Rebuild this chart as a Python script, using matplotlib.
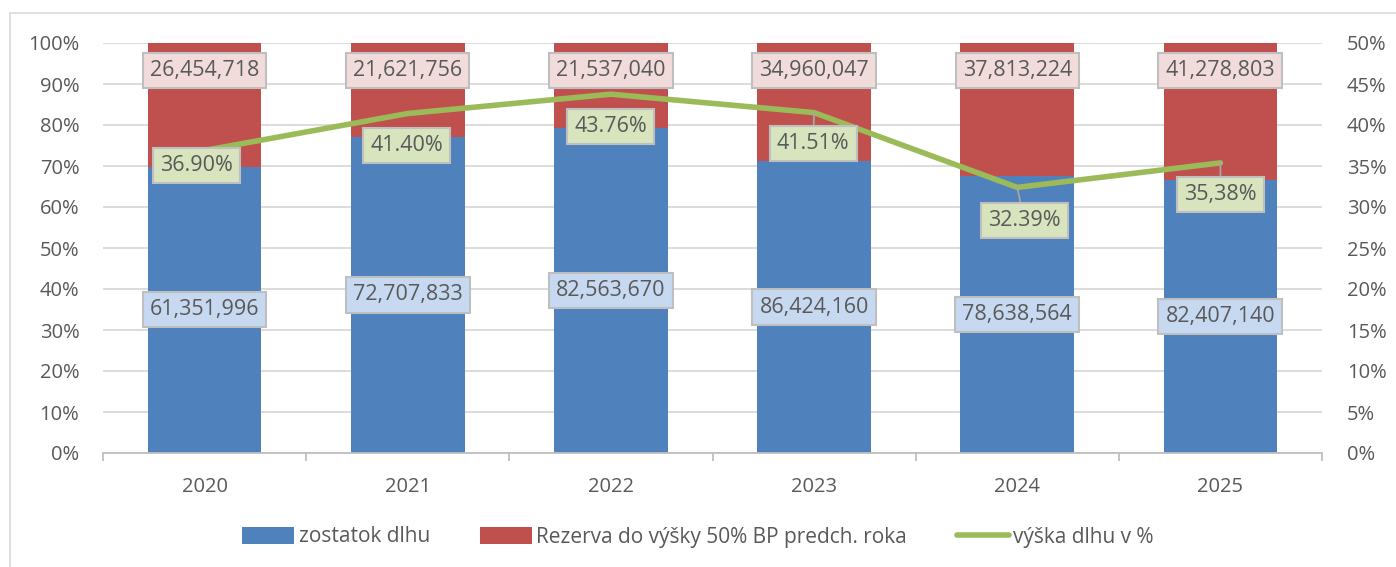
import matplotlib
matplotlib.use("Agg")
import matplotlib.pyplot as plt
from matplotlib.patches import Rectangle
from matplotlib.ticker import FuncFormatter, MultipleLocator
import numpy as np

years = ["2020", "2021", "2022", "2023", "2024", "2025"]
zostatok = [61351996, 72707833, 82563670, 86424160, 78638564, 82407140]
rezerva = [26454718, 21621756, 21537040, 34960047, 37813224, 41278803]
vyska_pct = [36.90, 41.40, 43.76, 41.51, 32.39, 35.38]
vyska_labels = ["36.90%", "41.40%", "43.76%", "41.51%", "32.39%", "35,38%"]

BLUE = "#4F81BD"; RED = "#C0504D"; GREEN = "#9BBB59"
TXT = "#595959"
plt.rcParams['font.family'] = ['Open Sans', 'DejaVu Sans']

fig = plt.figure(figsize=(13.96, 5.67), dpi=100)
fig.patches.append(Rectangle((10/1396, -0.01), 1.0, 1 - 13/567 + 0.01, transform=fig.transFigure,
                             fill=False, edgecolor="#D9D9D9", linewidth=1.2))
ax = fig.add_axes([103/1396, 1 - 453/567, (1322 - 103)/1396, (453 - 43)/567])
ax2 = ax.twinx()

x = np.arange(len(years))
tot = np.array(zostatok, float) + np.array(rezerva, float)
blue_frac = np.array(zostatok) / tot * 100
red_frac = np.array(rezerva) / tot * 100
w = 0.56
ax.bar(x, blue_frac, w, color=BLUE, label="zostatok dlhu", zorder=2)
ax.bar(x, red_frac, w, bottom=blue_frac, color=RED, label="Rezerva do výšky 50% BP predch. roka", zorder=2)

ax.set_xlim(-0.5, len(years) - 0.5)
ax.set_ylim(0, 100)
ax.yaxis.set_major_locator(MultipleLocator(10))
ax.yaxis.set_major_formatter(FuncFormatter(lambda v, p: f"{v:.0f}%"))
ax.grid(axis="y", color="#D9D9D9", linewidth=1.3, zorder=0)
ax.set_axisbelow(True)
for s in ["top", "right", "left"]:
    ax.spines[s].set_visible(False)
ax.spines["bottom"].set_color("#BFBFBF")
ax.spines["bottom"].set_linewidth(1.3)
ax.set_xticks(x)
ax.set_xticklabels(years)
ax.set_xticks(np.arange(-0.5, len(years)), minor=True)
ax.tick_params(axis="x", which="major", length=0, pad=17, labelsize=14.5, labelcolor=TXT)
ax.tick_params(axis="x", which="minor", length=6, color="#BFBFBF", width=1.3)
ax.tick_params(axis="y", length=0, pad=17, labelsize=14.5, labelcolor=TXT)

ax2.set_ylim(0, 50)
ax2.yaxis.set_major_locator(MultipleLocator(5))
ax2.yaxis.set_major_formatter(FuncFormatter(lambda v, p: f"{v:.0f}%"))
ax2.tick_params(axis="y", length=0, pad=18, labelsize=14.5, labelcolor=TXT)
for s in ["top", "right", "left", "bottom"]:
    ax2.spines[s].set_visible(False)
ax2.plot(x, vyska_pct, color=GREEN, linewidth=4, solid_capstyle="round", label="výška dlhu v %", zorder=3)

LFS = 15.5
PAD = 0.33
for i in range(len(years)):
    ax.text(x[i], blue_frac[i] / 2, f"{zostatok[i]:,}", ha="center", va="center", fontsize=LFS, color=TXT,
            zorder=5, bbox=dict(boxstyle=f"square,pad={PAD}", fc="#C6D9F1", ec="#BFBFBF", lw=1.5))
    ax.text(x[i], 93.3, f"{rezerva[i]:,}", ha="center", va="center", fontsize=LFS, color=TXT,
            zorder=5, bbox=dict(boxstyle=f"square,pad={PAD}", fc="#F2DCDB", ec="#BFBFBF", lw=1.5))

offsets = [(-8, -15), (-1, -32), (0, -32), (-1, -31), (7, -33), (0, -32)]
leaders = [False, False, False, True, True, True]
for i in range(len(years)):
    dx, dy = offsets[i]
    ax2.annotate(vyska_labels[i], (x[i], vyska_pct[i]), xytext=(dx * 0.72, dy * 0.72), textcoords="offset points",
                 ha="center", va="center", fontsize=LFS, color=TXT, zorder=6,
                 bbox=dict(boxstyle=f"square,pad={PAD}", fc="#D7E4BD", ec="#BFBFBF", lw=1.5),
                 arrowprops=(dict(arrowstyle="-", color="#A6A6A6", lw=1.3, shrinkA=0, shrinkB=0) if leaders[i] else None))

h1, l1 = ax.get_legend_handles_labels()
h2, l2 = ax2.get_legend_handles_labels()
fig.legend(h1 + h2, l1 + l2, loc="center", bbox_to_anchor=(0.5, 1 - 537/567), ncol=3, frameon=False,
           fontsize=15, labelcolor=TXT, handlelength=2.5, handleheight=0.9, handletextpad=0.2, columnspacing=2.4)

fig.savefig("out.png", dpi=100)
